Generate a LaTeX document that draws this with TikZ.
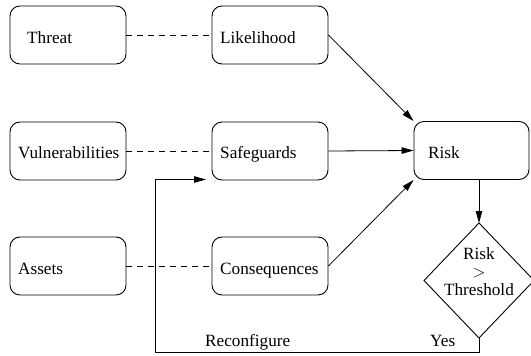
\documentclass[tikz,border=0pt]{standalone}
\usepackage{fontspec}
\setmainfont{Liberation Serif}
\usetikzlibrary{arrows.meta}
\begin{document}
\begin{tikzpicture}[x=1pt,y=-1pt,
  box/.style={draw,rounded corners=10pt,minimum width=116pt,minimum height=58pt,inner sep=0pt,line width=0.9pt},
  txt/.style={anchor=base west,inner sep=0pt,font=\fontsize{17.2}{18}\selectfont},
  dash line/.style={dashed,dash pattern=on 6pt off 5pt,line width=0.8pt},
  arr/.style={line width=0.8pt,-{Triangle[length=12pt,width=6.5pt]}}]
\useasboundingbox (0,0) rectangle (531,356);
% boxes
\node[box] (threat) at (68,35) {};
\node[box] (like) at (270,35) {};
\node[box] (vuln) at (68,151) {};
\node[box] (safe) at (270,151) {};
\node[box] (assets) at (68,266) {};
\node[box] (cons) at (270,266) {};
\node[box,minimum width=115pt] (risk) at (471.5,150.5) {};
% decision diamond
\coordinate (dn) at (479,223);
\coordinate (ds) at (479,338);
\coordinate (dw) at (424,280.5);
\coordinate (de) at (534,280.5);
\draw[line width=0.9pt,line join=miter] (dn) -- (de) -- (ds) -- (dw) -- cycle;
% texts
\node[txt] (tthreat) at (27,43) {Threat};
\node[txt] (tlike) at (220,43) {Likelihood};
\node[txt] (tvuln) at (18,158) {Vulnerabilities};
\node[txt] (tsafe) at (220,158) {Safeguards};
\node[txt] (tassets) at (18,274) {Assets};
\node[txt] (tcons) at (220,274) {Consequences};
\node[txt] (trisk) at (428,158) {Risk};
\node[inner sep=0pt,align=center,font=\fontsize{17.2}{18}\selectfont,anchor=base] (tdec) at (479,295) {Risk\\$>$\\Threshold};
\node[txt] (trec) at (205,346) {Reconfigure};
\node[txt] (tyes) at (430,346) {Yes};
% connectors
\draw[dash line] (threat.east) -- (like.west);
\draw[dash line] (vuln.east) -- (safe.west);
\draw[dash line] (assets.east) -- (cons.west);
\draw[arr] (like.east) -- (risk.north west);
\draw[arr] (safe.east) -- (risk.west);
\draw[arr] (cons.east) -- (risk.south west);
\draw[arr] (risk.south -| dn) -- (dn);
\coordinate (fb) at (206,179.5);
\draw[arr] (ds) -- (479,352) -- (155,352) -- (155,179.5) -- (fb);
\end{tikzpicture}
\end{document}
